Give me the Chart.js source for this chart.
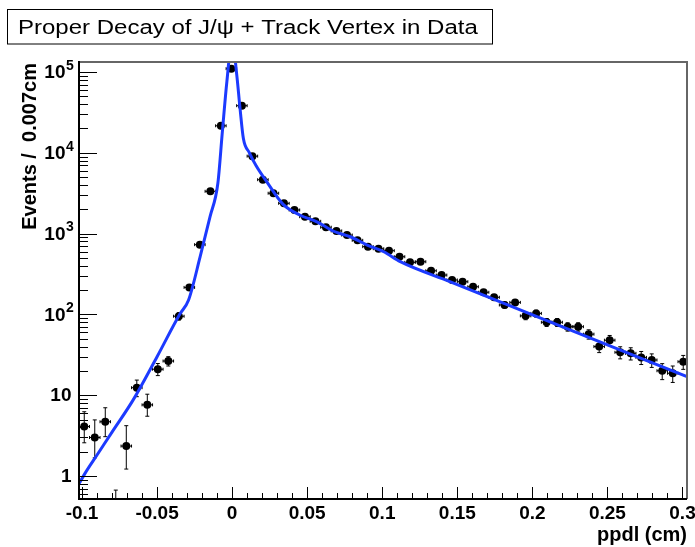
<!DOCTYPE html>
<html>
<head>
<meta charset="utf-8">
<script src="https://cdn.jsdelivr.net/npm/chart.js@4"></script>
<style>
  html, body { margin: 0; padding: 0; background: #fff; }
  #wrap { position: relative; width: 695px; height: 547px; }
</style>
</head>
<body>
<div id="wrap"><canvas id="c"></canvas></div>
<script>
// Proper decay length of J/psi + track vertex candidates, 0.007 cm bins
const binCenter = [
  -0.0985, -0.0915, -0.0845, -0.0775, -0.0705, -0.0635, -0.0565, -0.0495, -0.0425, -0.0355,
  -0.0285, -0.0215, -0.0145, -0.0075, -0.0005, 0.0065, 0.0135, 0.0205, 0.0275, 0.0345,
  0.0415, 0.0485, 0.0555, 0.0625, 0.0695, 0.0765, 0.0835, 0.0905, 0.0975, 0.1045,
  0.1115, 0.1185, 0.1255, 0.1325, 0.1395, 0.1465, 0.1535, 0.1605, 0.1675, 0.1745,
  0.1815, 0.1885, 0.1955, 0.2025, 0.2095, 0.2165, 0.2235, 0.2305, 0.2375, 0.2445,
  0.2515, 0.2585, 0.2655, 0.2725, 0.2795, 0.2865, 0.2935, 0.3005
];
const counts = [
  4.1, 3.0, 4.7, 0.3, 2.35, 12.4, 7.6, 21, 26.5, 95,
  216, 730, 3340, 21600, 110000, 38300, 9100, 4650, 3160, 2370,
  1960, 1620, 1420, 1200, 1080, 960, 826, 690, 650, 615,
  518, 441, 449, 347, 307, 267, 254, 220, 188, 163,
  131, 141, 96, 103, 80, 80, 70.5, 70.5, 57, 40,
  48, 34, 33, 29.4, 27.3, 20.1, 18.7, 26
];
const errHigh = [
  2.15, 1.95, 2.3, 0.37, 1.85, 3.0, 2.7, 3.7, 3.5, 10,
  15, 27, 58, 147, 332, 196, 95, 68, 56, 49,
  44, 40, 38, 35, 33, 31, 29, 26, 25, 25,
  23, 21, 21, 19, 18, 16, 16, 15, 14, 13,
  11, 12, 10, 10, 9, 9, 8.4, 8.4, 7.5, 6.3,
  6.9, 5.8, 5.7, 5.4, 5.2, 4.5, 4.3, 5.1
];
const errLow = [
  1.52, 1.32, 1.63, 0.2, 1.13, 2.8, 2.1, 3.5, 3.5, 10,
  15, 27, 58, 147, 332, 196, 95, 68, 56, 49,
  44, 40, 38, 35, 33, 31, 29, 26, 25, 25,
  23, 21, 21, 19, 18, 16, 16, 15, 14, 13,
  11, 12, 10, 10, 9, 9, 8.4, 8.4, 7.5, 6.3,
  6.9, 5.8, 5.7, 5.4, 5.2, 4.5, 4.3, 5.1
];

// Fitted lifetime model (resolution core + prompt + long-lived tail)
const fitX = [
  -0.102, -0.098, -0.09, -0.08, -0.066, -0.05, -0.035, -0.029, -0.0213, -0.0147,
  -0.0095, -0.0065, -0.0035, 0.0, 0.0031, 0.0053, 0.0075, 0.0115, 0.016, 0.023,
  0.034, 0.045, 0.0565, 0.0676, 0.0787, 0.09, 0.101, 0.112, 0.145, 0.2076, 0.303
];
const fitY = [
  0.80, 1.08, 1.82, 3.5, 8.7, 30, 100, 151, 518, 1620,
  4200, 18300, 76000, 250000, 91600, 35000, 15000, 10000, 6900, 4400,
  2300, 1700, 1400, 1070, 915, 722, 597, 450, 255, 87, 17
];

const xTickValues = [-0.1, -0.05, 0, 0.05, 0.1, 0.15, 0.2, 0.25, 0.3];
const xTickLabels = ['-0.1', '-0.05', '0', '0.05', '0.1', '0.15', '0.2', '0.25', '0.3'];
const yTickValues = [1, 10, 100, 1000, 10000, 100000];
const yTickBase = ['1', '10', '10', '10', '10', '10'];
const yTickExp = ['', '', '2', '3', '4', '5'];

const BIN_WIDTH = 0.007;
const TITLE_TEXT = 'Proper Decay of J/\u03c8 + Track Vertex in Data';
const X_TITLE = 'ppdl (cm)';
const Y_TITLE = 'Events /  0.007cm';

const FONT = '"Liberation Sans", Arial, Helvetica, sans-serif';

const rootStyle = {
  id: 'rootStyle',
  beforeDraw(chart) {
    const ctx = chart.ctx;
    ctx.save();
    ctx.fillStyle = '#fff';
    ctx.fillRect(0, 0, chart.width, chart.height);
    ctx.restore();
  },
  beforeDatasetsDraw(chart) {
    const { ctx, chartArea: a, scales: { x, y } } = chart;
    const half = BIN_WIDTH / 2;
    ctx.save();
    ctx.beginPath();
    ctx.rect(a.left, a.top, a.right - a.left, a.bottom - a.top);
    ctx.clip();
    ctx.strokeStyle = '#000';
    ctx.lineWidth = 1;
    binCenter.forEach((c, i) => {
      const v = counts[i];
      const px = x.getPixelForValue(c);
      const py = y.getPixelForValue(v);
      const yt = y.getPixelForValue(v + errHigh[i]);
      const yb = y.getPixelForValue(Math.max(v - errLow[i], 1e-3));
      const xl = x.getPixelForValue(c - half);
      const xr = x.getPixelForValue(c + half);
      ctx.beginPath();
      ctx.moveTo(px, yt); ctx.lineTo(px, yb);
      ctx.moveTo(px - 2, yt); ctx.lineTo(px + 2, yt);
      ctx.moveTo(px - 2, yb); ctx.lineTo(px + 2, yb);
      ctx.moveTo(xl, py); ctx.lineTo(xr, py);
      ctx.moveTo(xl, py - 1.5); ctx.lineTo(xl, py + 1.5);
      ctx.moveTo(xr, py - 1.5); ctx.lineTo(xr, py + 1.5);
      ctx.stroke();
    });
    ctx.restore();
  },
  afterDraw(chart) {
    const { ctx, chartArea: a, scales: { x, y } } = chart;
    ctx.save();

    // frame: grey top/right, black axes left/bottom
    ctx.strokeStyle = '#666';
    ctx.lineWidth = 2;
    ctx.beginPath();
    ctx.moveTo(a.left, a.top); ctx.lineTo(a.right, a.top); ctx.lineTo(a.right, a.bottom);
    ctx.stroke();
    ctx.strokeStyle = '#000';
    ctx.beginPath();
    ctx.moveTo(a.left, a.top - 1); ctx.lineTo(a.left, a.bottom); ctx.lineTo(a.right, a.bottom);
    ctx.stroke();

    // y ticks (log): decades long, 2..9 short
    ctx.lineWidth = 1;
    ctx.beginPath();
    for (let d = -1; d <= 5; d++) {
      for (let m = 1; m <= 9; m++) {
        const v = m * Math.pow(10, d);
        if (v < y.min || v > y.max) continue;
        const py = Math.round(y.getPixelForValue(v)) + 0.5;
        const len = m === 1 ? 18 : 9;
        ctx.moveTo(a.left, py); ctx.lineTo(a.left + len, py);
      }
    }
    // x ticks: majors every 0.05, minors every 0.01
    for (let k = -10; k <= 30; k++) {
      const v = k / 100;
      if (v < x.min || v > x.max) continue;
      const px = Math.round(x.getPixelForValue(v)) + 0.5;
      const len = (k % 5 === 0) ? 12 : 6;
      ctx.moveTo(px, a.bottom); ctx.lineTo(px, a.bottom - len);
    }
    ctx.stroke();

    ctx.fillStyle = '#000';
    // x tick labels
    ctx.font = 'bold 19px ' + FONT;
    ctx.textAlign = 'center';
    ctx.textBaseline = 'alphabetic';
    xTickValues.forEach((v, i) => {
      ctx.fillText(xTickLabels[i], x.getPixelForValue(v), 519);
    });

    // y tick labels with superscript exponents
    yTickValues.forEach((v, i) => {
      const py = y.getPixelForValue(v);
      ctx.textBaseline = 'middle';
      if (yTickExp[i]) {
        ctx.font = 'bold 19px ' + FONT;
        ctx.textAlign = 'right';
        ctx.fillText(yTickBase[i], 65.5, py + 1);
        ctx.font = 'bold 14px ' + FONT;
        ctx.textAlign = 'left';
        ctx.fillText(yTickExp[i], 66, py - 6);
      } else {
        ctx.font = 'bold 19px ' + FONT;
        ctx.textAlign = 'right';
        ctx.fillText(yTickBase[i], 71.5, py + 1);
      }
    });

    // axis titles
    ctx.font = 'bold 20px ' + FONT;
    ctx.textBaseline = 'alphabetic';
    ctx.textAlign = 'right';
    ctx.fillText(X_TITLE, a.right, 541);
    ctx.save();
    ctx.translate(35.5, a.top + 1);
    ctx.rotate(-Math.PI / 2);
    ctx.textAlign = 'right';
    ctx.fillText(Y_TITLE, 0, 0);
    ctx.restore();

    // title box; the title face is drawn slightly widened
    ctx.lineWidth = 1;
    ctx.strokeStyle = '#000';
    ctx.strokeRect(7.5, 9.5, 485, 34.5);
    ctx.font = '20px ' + FONT;
    ctx.textAlign = 'left';
    ctx.textBaseline = 'alphabetic';
    ctx.save();
    ctx.translate(18, 33.5);
    ctx.scale(1.2, 1);
    ctx.fillText(TITLE_TEXT, 0, 0);
    ctx.restore();

    ctx.restore();
  }
};

new Chart(document.getElementById('c'), {
  type: 'scatter',
  data: {
    datasets: [
      {
        label: 'fit',
        data: fitX.map((v, i) => ({ x: v, y: fitY[i] })),
        showLine: true,
        borderColor: 'rgb(28, 58, 255)',
        borderWidth: 3,
        pointRadius: 0,
        cubicInterpolationMode: 'monotone',
        order: 0
      },
      {
        label: 'data',
        data: binCenter.map((v, i) => ({ x: v, y: counts[i] })),
        showLine: false,
        pointRadius: 4,
        pointBackgroundColor: '#000',
        pointBorderWidth: 0,
        order: 1
      }
    ]
  },
  options: {
    responsive: true,
    maintainAspectRatio: false,
    animation: false,
    devicePixelRatio: 1,
    layout: { padding: { top: 62, right: 8, left: 0, bottom: 0 } },
    plugins: { legend: { display: false }, tooltip: { enabled: false }, title: { display: false } },
    scales: {
      x: {
        type: 'linear', min: -0.102, max: 0.303,
        grid: { display: false }, border: { display: false }, ticks: { display: false },
        afterFit(s) { s.height = 48; }
      },
      y: {
        type: 'logarithmic', min: 0.52, max: 133000,
        grid: { display: false }, border: { display: false }, ticks: { display: false },
        afterFit(s) { s.width = 79; }
      }
    }
  },
  plugins: [rootStyle]
});
</script>
</body>
</html>
